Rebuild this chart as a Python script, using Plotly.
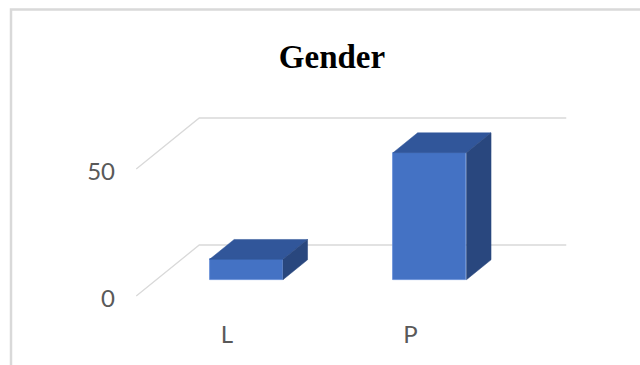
import plotly.graph_objects as go

# ---- data ----
categories = ["L", "P"]
values = [8, 50]
y_tick_values = [0, 50]
y_tick_labels = ["0", "50"]
title_text = "Gender"

# ---- layout geometry (pixels) ----
W, H = 640, 365
ML, MR, MT, MB = 116, 0, 0, 47
plot_w = W - ML - MR
plot_h = H - MT - MB
px_per_unit_x = 183.5     # pixels per category step
px_per_unit_y = 2.54      # pixels per value unit
y0_px = 296               # pixel row of value 0 on the front plane
x0_px = 228               # pixel column of first category on the front plane

ymin = -(H - MB - y0_px) / px_per_unit_y
ymax = ymin + plot_h / px_per_unit_y
xmin = -(x0_px - ML) / px_per_unit_x
xmax = xmin + plot_w / px_per_unit_x

# depth projection (full depth = 63 px right, 51 px up)
DX = 63 / px_per_unit_x
DY = 51 / px_per_unit_y
d_front, d_back = 0.29, 0.68
bar_w = 0.40
lift = 0.6  # small visual lift of the bar floor

def proj(u, v, d):
    return u + DX * d, v + DY * d

grid_col = "#d9d9d9"
front_col = "#4472C4"
top_col = "#31569a"
side_col = "#29477e"

fig = go.Figure()

# gridlines (front-left diagonal + back wall), drawn beneath the bars
for v in y_tick_values:
    pts = [proj(-0.5, v, 0), proj(-0.5, v, 1), proj(len(categories) - 0.5, v, 1)]
    path = "M " + " L ".join(f"{x},{y}" for x, y in pts)
    fig.add_shape(type="path", path=path, xref="x", yref="y",
                  line=dict(color=grid_col, width=1.3), layer="below")

xs = list(range(len(categories)))
# front faces
fig.add_trace(go.Bar(
    x=[proj(u, 0, d_front)[0] for u in xs],
    y=values,
    base=[DY * d_front + lift] * len(values),
    width=bar_w,
    marker=dict(color=front_col, line=dict(color="#5f89d6", width=0.8)),
    showlegend=False, hoverinfo="skip"))

# top and side faces
for u, v in zip(xs, values):
    l, r = u - bar_w / 2, u + bar_w / 2
    b = lift
    top = [proj(l, v + b, d_front), proj(r, v + b, d_front), proj(r, v + b, d_back), proj(l, v + b, d_back)]
    side = [proj(r, b, d_front), proj(r, v + b, d_front), proj(r, v + b, d_back), proj(r, b, d_back)]
    for poly, col in ((top, top_col), (side, side_col)):
        fig.add_trace(go.Scatter(
            x=[p[0] for p in poly] + [poly[0][0]],
            y=[p[1] for p in poly] + [poly[0][1]],
            mode="lines", fill="toself", fillcolor=col,
            line=dict(color=col, width=0.5),
            hoverinfo="skip", showlegend=False))

# chart frame
def paper_x(px):
    return (px - ML) / plot_w

def paper_y(py):
    return (H - MB - py) / plot_h

fig.add_shape(type="rect", xref="paper", yref="paper",
              x0=paper_x(11), y0=paper_y(400), x1=paper_x(700), y1=paper_y(9.5),
              line=dict(color="#d9d9d9", width=2.5), fillcolor="rgba(0,0,0,0)", layer="below")

tick_font = dict(family="Lato", size=24, color="#595959")
fig.update_layout(
    width=W, height=H,
    margin=dict(l=ML, r=MR, t=MT, b=MB, pad=0),
    paper_bgcolor="white", plot_bgcolor="white",
    title=dict(text="<b>" + title_text + "</b>", x=332 / W, xanchor="center",
               y=1 - 56 / H, yanchor="middle",
               font=dict(family="Liberation Serif", size=33, color="black")),
    xaxis=dict(range=[xmin, xmax], tickvals=xs, ticktext=categories,
               showgrid=False, zeroline=False, showline=False, ticks="",
               ticklabelshift=-1, tickfont=tick_font),
    yaxis=dict(range=[ymin, ymax], tickvals=y_tick_values, ticktext=y_tick_labels,
               showgrid=False, zeroline=False, showline=False, ticks="",
               ticklabelshift=3, tickfont=tick_font),
    bargap=0,
)

fig.write_html("out.html")
